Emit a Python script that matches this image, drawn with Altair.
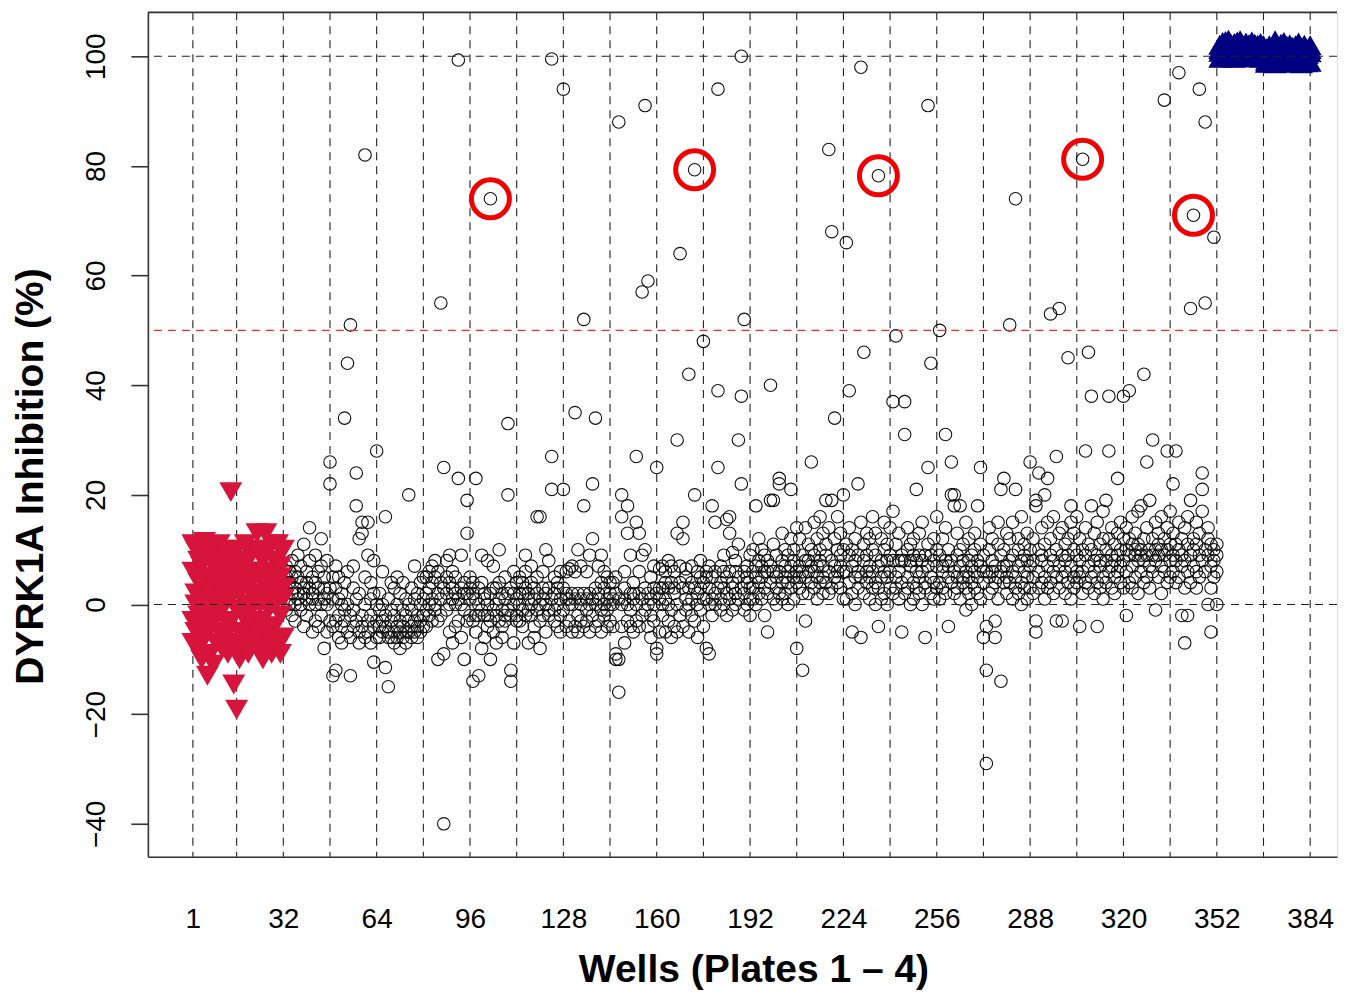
import altair as alt
import pandas as pd

# ---------------- scale / axis values ----------------
X_MIN, X_MAX = -14.42, 393.2
Y_MIN, Y_MAX = -46, 108
x_ticks = [1, 32, 64, 96, 128, 160, 192, 224, 256, 288, 320, 352, 384]
y_ticks = [-40, -20, 0, 20, 40, 60, 80, 100]
v_lines = [1] + [16 * k for k in range(1, 25)]
h_black = [0, 100]
h_red = [50]

# ---------------- negative controls, wells 1-32 (4 plates each) ----------------
neg_ctrl = [
    11, -3, 6, -7,   2, 10, -5, 0,   -8, 4, 8, -2,   7, -10, 1, 5,
    11.4, -6, 3, -1, -13, 0, 9, -4,  5, -9, 2, 10,   -3, 7, -11, 1,
    9, -2, 4, -7,    0, 6, -5, 11,   -8, 3, 8, -1,   4, -6, 10, 2,
    -4, 9, -9, 5,    20.5, 1, -3, 7, -14.6, 6, -7, 3, -19.2, 10, -1, 4,
    2, -5, 8, -10,   7, -2, 3, -8,   -6, 11, 0, 5,   3, -9, 6, -3,
    9, -1, -7, 4,    -4, 5, 1, 10,   13, -8, 2, -5,  6, -3, 9, 0,
    -7, 4, -10, 8,   13, 1, -4, 6,   2, 10, -6, -1,  -9, 5, 3, 11,
    8, -4, 0, -8,    4, 11, -7, 2,   -2, 7, 5, -9,   10, -6, 1, 3,
]

# ---------------- positive controls, wells 353-384 ----------------
pos_ctrl = [
    100.8, 99.7, 102.1, 101.3,  101.9, 100.2, 99.9, 102.6,  100.5, 101.4, 102.8, 99.8,  103.0, 100.9, 101.6, 100.1,
    99.9, 102.2, 100.6, 101.8,  101.1, 99.7, 102.4, 100.3,  102.7, 101.0, 100.0, 101.5,  100.4, 102.9, 101.2, 99.8,
    101.7, 100.2, 102.0, 100.9,  99.8, 101.3, 100.7, 102.5,  102.2, 100.1, 101.6, 99.9,  100.6, 102.7, 101.0, 100.3,
    101.4, 99.9, 102.3, 101.1,  100.0, 101.8, 100.5, 102.1,  102.4, 100.8, 99.7, 101.3,  101.0, 102.0, 100.2, 100.7,
    99.2, 101.4, 100.1, 98.8,  100.6, 98.9, 102.0, 99.7,  101.8, 100.3, 99.0, 101.1,  99.5, 102.9, 100.8, 98.7,
    100.9, 99.3, 101.6, 100.2,  102.3, 100.0, 98.9, 101.4,  99.8, 101.2, 100.5, 102.6,  98.8, 100.7, 101.9, 99.6,
    101.0, 99.1, 100.3, 102.2,  100.4, 101.7, 99.4, 98.9,  102.0, 99.9, 101.3, 100.6,  99.3, 100.8, 102.5, 101.0,
    101.5, 98.7, 100.1, 99.8,  100.2, 101.9, 99.5, 102.1,  99.6, 100.4, 101.2, 98.9,  101.3, 99.0, 100.7, 102.0,
]

# ---------------- compound wells 33-352, blocks of 16 wells x 4 plates ----------------
sample_blocks = [
    [3, 7, -1, 5, 1, 6, 0, 4, 8, 2, -2, 5, 3, 0, 6, -3, 5, 1, 9, 2, -1, 4, 7, 0, 2, 11, -4, 3, 6, 1, -2, 4,
     14, 3, 0, 8, 2, -5, 5, 1, 4, 9, 0, -3, 1, 6, -4, 3, 7, 0, 12, -2, -8, 3, 5, 1, 2, -5, 8, 0, 26, 22, 3, -3],
    [-13, 1, -4, 5, -12, -3, 3, 7, -2, -6, 1, 5, 0, -4, -7, 2, 34, -3, 4, -1, 44, -5, 0, 6, 51, -13, -2, -6, 3, -4, 7, -1,
     24, 18, -3, 1, 12, -5, 2, -7, 15, 13, -2, -4, 82, -6, 0, 5, 15, 9, -3, -5, 1, -7, 4, -2, -10.5, 2, -4, 8, 28, -3, -6, 0],
    [-4, -6, 2, -1, -5, 0, -3, 6, -11.5, 16, -4, -2, -15, -5, -6, 1, -3, -6, 4, -1, -5, -2, -7, 3, 0, -4, -6, 5, -3, -5, 2, -8,
     -6, -1, 4, -4, -2, -5, -7, 1, 20, -3, -5, 0, -4, 3, -6, -1, 1, -5, -3, 7, -6, -2, 2, -4, 0, 4, -5, -3, -2, 5, -4, 1],
    [2, -1, 5, -4, 3, 0, 6, -2, 1, 4, -3, 7, -1, 8, 0, 5, -10, 2, 6, -3, 55, -2, 4, 1, -9, 25, -40, 3, 2, 5, -1, 8,
     0, 9, -5, 4, 6, -7, 1, 3, -4, 2, 5, 0, 99.3, 23, 1, -3, 3, -6, 9, 0, -10, 2, 4, -1, 19, 13, -3, 2, 1, 5, -2, 3],
    [-14, 2, -3, 4, 23, -2, 1, -5, -13, 3, -2, 0, 4, -8, -1, 9, -2, 2, -6, 1, 0, -4, 8, -2, 74, -10, 2, -3, -1, 7, -5, 3,
     3, -2, 0, -7, 10, -3, 1, 4, -4, 2, -1, -6, 1, -2, 5, -3, 33, 20, -1, 2, -14, -12, 3, -2, 0, -7, 2, 6, -3, 1, -2, 4],
    [2, -3, 5, 0, -1, 4, -4, 2, 3, 9, -2, 6, -7, 2, 1, -1, 4, -2, 7, 0, 1, -4, 3, -6, 16, 2, -1, 5, -8, 16, 0, -3,
     3, 6, -2, 1, 0, -5, 10, 2, -2, 3, 8, -1, 99.5, 27, 21, 1, 2, -3, 5, -1, 0, 4, -4, 3, -2, 1, 6, -5, 21, 94, 3, -1],
    [6, 1, -4, 2, 0, 6.5, -3, 1, 2, -5, 7, 0, 35, 1, -4, 6, -2, 2, 10, -5, 1, -3, 0, 7, 52, 18, 2, -4, 6, -1, 1, -3,
     0, 9, -5, 2, 22, 12, 1, -2, 34, -4, 3, 0, 2, 7, -3, 1, 9, -1, 4, -5, 0, 3, -2, 6, -4, 1, 5, -1, 2, -3, 0, 4],
    [1, 4, -4, 0, -10, -9, 2, 5, 88, -10, -16, 1, 20, 16, 0, -4, 3, -7, 6, 1, 18, 13, -3, 0, 2, -4, 9, -1, 1, 4, -5, 2,
     15, 27, 0, -3, 13, 2, -4, 6, 57, 9, 1, -2, 91, 10, -1, 3, 59, 0, -4, 2, 5, -2, 1, -6, 3, -3, 7, 0, 25, -9, -8, 2],
    [6.5, 3, -5, 1, 0, 7, -2, 3, 4, -5, 6, 1, -3, 3, 0, 8, 7, -1, 4, -6, 2, 6, -4, 3, 30, 13, 0, -5, 64, 4, -2, 7,
     15, 12, 3, -4, 1, 6.5, -1, 5, 42, 3, -5, 0, 7, -2, 4, 1, 79.3, 20, 3, -3, 2, 6, -6, 0, 5, -1, 3, 8, 48, 1, -4, 4],
    [-8, 5, 1, 6, -9, 3, 0, 7, 18, 1, 5, -2, 15, 6, 2, 0, 94, 39, 25, 3, 4, 1, 7, -1, 6, 0, 3, 9, 15.5, 2, 5, -2,
     16, 13, 1, 6, 9.5, 4, -1, 3, 6, 2, 8, 0, 30, 11, 5, 1, 100, 38, 22, 3, 52, 6, 2, -1, 4, 7, 0, 5, 1, 3, 9, -2],
    [6, 3, 10, 1, 18, 5, 7, 0, 4, 8, 2, 12, 7, 1, 5, 10, 3, 9, 6, -2, -5, 6, 2, 8, 40, 19, 4, 7, 19, 6, 1, 11,
     5, 9, 3, 0, 23, 22, 6, 2, 8, 4, 13, 1, 2, 7, 5, 10, 6, 0, 9, 4, 21, 7, 3, 12, 5, 10, 1, 8, -8, 6, 4, 14],
    [7, 3, 12, 5, -12, 6, 9, 2, -3, 8, 5, 14, 6, 11, 2, 8, 26, 7, 4, 10, 9, 3, 15, 6, 5, 12, 7, 1, 8, 4, 10, 16,
     2, 7, 13, 5, 19, 9, 4, 11, 83, 6, 14, 2, 68, 19, 8, 3, 34, 7, 12, 5, 10, 4, 16, 6, 3, 9, 7, 13, 20, 6, 1, 10],
    [66, 6, 11, 1, 39, 4, 9, 14, -5, 7, 2, 10, 5, 12, 8, 0, 22, 3, 9, 6, 98, -6, 5, 15, 46, 8, 2, 11, 6, 13, 4, 9,
     1, 7, 12, 5, 10, 3, 16, 6, 4, 9, 0, 13, 78.2, -4, 7, 3, 8, 12, 5, 1, 6, 2, 10, 15, 11, 5, 8, 0, 3, 9, 14, 6],
    [17, 37, 8, 2, 49, 5, 11, 3, 8, 1, 6, 13, -5, 9, 4, 8, 37, 31, 8, 2, 5, 10, 3, 14, 8, 0, 7, 11, 4, 12, 9, 1,
     21, 6, 3, 8, 9, 2, 13, 5, 6, 15, 8, 0, -6, 4, 9, 3, 91, 25, 7, 11, 44, 5, 2, 9, 8, 12, 4, 1, 3, 7, 10, 16],
    [50, 4, 9, 1, 7, 12, 3, 6, 31, 8, 2, 14, -4, 5, 10, 7, 26, 20, 4, 8, 18, 20, 6, 2, 9, 3, 13, 5, 18, 7, 1, 10,
     5, 11, 4, 8, -1, 6, 3, 15, 8, 2, 12, 5, 4, 9, 7, 0, 10, 3, 6, 13, 18, 5, 8, 2, 25, 7, 1, 11, -6, 4, 9, 6],
    [-29, -12, -4, 6, 5, 10, 2, 14, 8, 3, 12, 6, -6, -3, 7, 4, 11, 5, 15, 1, -14, 21, 6, 9, 23, 4, 10, 7, 7, 13, 2, 5,
     51, 8, 4, 12, 6, 1, 15, 9, 74, 21, 5, 3, 10, 7, 12, 2, 4, 16, 8, 0, 9, 3, 11, 6, 5, 13, 1, 8, 26, 7, 10, 3],
    [5, 12, 8, 2, 19, 18, -5, -3, 24, 6, 10, 3, 8, 14, 4, 9, 20, 5, 11, 1, 23, 7, 3, 15, 53, 9, 4, 12, 6, 16, 2, 8,
     27, -3, 10, 5, 54, 7, 13, 3, -3, 9, 5, 14, 8, 2, 11, 6, 45, 12, 4, 9, 18, 7, 15, 1, 5, 10, 3, 13, 9, 6, 16, 4],
    [-4, 8, 12, 5, 81.2, 6, 10, 2, 28, 9, 4, 14, 46, 7, 11, 3, 38, 18, 5, 10, 8, 13, 2, 6, -4, 9, 15, 4, 7, 11, 3, 8,
     12, 5, 17, 1, 19, 8, 4, 10, 38, 28, 6, 12, 9, 3, 14, 7, 5, 11, 8, 2, 23, 6, 13, 9, 10, 4, 7, 15, 38, 8, 12, 3],
    [-2, 10, 6, 14, 39, 9, 4, 12, 11, 7, 16, 3, 9, 13, 5, 10, 8, 2, 11, 17, 18, 10, 6, 9, 42, 12, 4, 8, 26, 9, 14, 5,
     19, 10, 7, 3, 30, 9, 12, 6, -1, 10, 8, 15, 9, 5, 13, 11, 7, 16, 10, 2, 92, 9, 6, 12, 28, 10, 4, 14, 8, 11, 17, 5],
    [22, 9, 6, 13, 28, 11, 4, 8, 97, 10, 15, 5, -2, 12, 7, 9, -7, 8, 14, 3, -2, 11, 6, 16, 19, 54, 9, 4, 71, 12, 7, 10,
     6, 15, 3, 11, 94, 9, 13, 5, 24, 21, 17, 8, 88, 55, 10, 6, 14, 0, 9, 12, -5, 7, 11, 3, 67, 10, 5, 8, 11, 9, 0, 6],
]

# ---------------- highlighted hits ----------------
hits_x = [103, 173, 236, 306, 344]
hits_y = [74, 79.3, 78.2, 81.2, 71]

# ---------------- tables ----------------
neg_df = pd.DataFrame({"x": [1 + i // 4 for i in range(len(neg_ctrl))], "y": neg_ctrl})
pos_df = pd.DataFrame({"x": [353 + i // 4 for i in range(len(pos_ctrl))], "y": pos_ctrl})
sx, sy = [], []
for b, vals in enumerate(sample_blocks):
    for k, v in enumerate(vals):
        sx.append(33 + 16 * b + k // 4)
        sy.append(v)
smp_df = pd.DataFrame({"x": sx, "y": sy})
hit_df = pd.DataFrame({"x": hits_x, "y": hits_y})
vl_df = pd.DataFrame({"x": v_lines})
hb_df = pd.DataFrame({"y": h_black})
hr_df = pd.DataFrame({"y": h_red})
one_df = pd.DataFrame({"a": [0]})

W, H = 1190, 845
FONT = "Liberation Sans"

xscale = alt.Scale(domain=[X_MIN, X_MAX], nice=False, zero=False)
yscale = alt.Scale(domain=[Y_MIN, Y_MAX], nice=False, zero=False)

xaxis = alt.Axis(
    values=x_ticks, format="d", grid=False, ticks=False, tickSize=0,
    labelPadding=71, labelBaseline="alphabetic", labelAlign="center",
    labelFontSize=28, labelFont=FONT, labelColor="black",
    labelFlush=False, labelOverlap=False,
    domainColor="#333333", domainWidth=1.6,
    title="Wells (Plates 1 – 4)", titleFont=FONT, titleFontSize=39,
    titleFontWeight="bold", titleColor="black",
    titleX=606, titleY=125, titleAlign="center", titleBaseline="alphabetic",
)
yaxis = alt.Axis(
    values=y_ticks, grid=False, tickSize=17, tickColor="#333333", tickWidth=1.6,
    labelAngle=270, labelAlign="center", labelBaseline="alphabetic", labelPadding=26,
    labelFontSize=28, labelFont=FONT, labelColor="black",
    labelFlush=False, labelOverlap=False,
    domainColor="#333333", domainWidth=1.6,
    title="DYRK1A Inhibition (%)", titleFont=FONT, titleFontSize=39,
    titleFontWeight="bold", titleColor="black", titleAngle=270,
    titleX=-105, titleY=464, titleAlign="center", titleBaseline="alphabetic",
)

X = alt.X("x:Q", scale=xscale, axis=xaxis)
Y = alt.Y("y:Q", scale=yscale, axis=yaxis)

vlines = alt.Chart(vl_df).mark_rule(color="#222222", strokeDash=[8, 6], strokeWidth=1.1).encode(x=X)
hblack = alt.Chart(hb_df).mark_rule(color="#222222", strokeDash=[8, 6], strokeWidth=1.1).encode(y=Y)
hred = alt.Chart(hr_df).mark_rule(color="#FF2A2A", strokeDash=[8, 6], strokeWidth=1.3).encode(y=Y)
top = alt.Chart(one_df).mark_rule(color="#333333", strokeWidth=1.6).encode(
    x=alt.value(0), x2=alt.value(W), y=alt.value(0))

samples = alt.Chart(smp_df).mark_point(
    shape="circle", filled=False, size=156, strokeWidth=1.1, color="#111111", opacity=1
).encode(x=X, y=Y)
neg = alt.Chart(neg_df).mark_point(
    shape="triangle-down", filled=True, size=530, color="#D7143C", opacity=1
).encode(x=X, y=Y)
pos = alt.Chart(pos_df).mark_point(
    shape="triangle-up", filled=True, size=530, color="#000080", opacity=1
).encode(x=X, y=Y)
hits = alt.Chart(hit_df).mark_point(
    shape="circle", filled=False, size=1444, strokeWidth=5, color="#F00000", opacity=1
).encode(x=X, y=Y)

chart = alt.layer(vlines, samples, neg, pos, hblack, hred, hits, top).properties(
    width=W, height=H,
    autosize=alt.AutoSizeParams(type="none"),
    padding={"left": 140, "top": 4, "right": 2, "bottom": 135},
).configure_view(stroke=None).configure(background="white")

chart.save("out.html", embed_options={"renderer": "svg", "actions": False})
